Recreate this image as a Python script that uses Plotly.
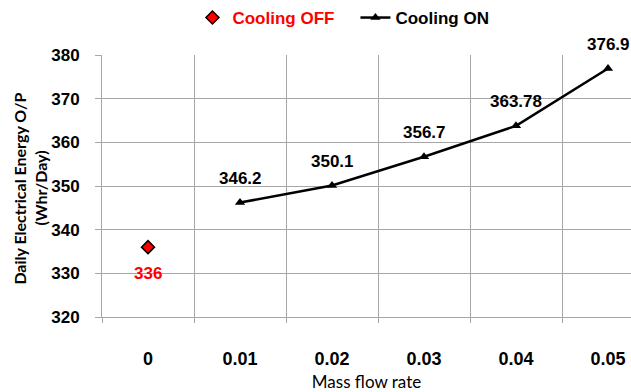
import plotly.graph_objects as go

# Mass flow rate categories and daily electrical energy output (Whr/Day)
categories = ["0", "0.01", "0.02", "0.03", "0.04", "0.05"]
off_x = ["0"]
off_y = [336]
on_x = ["0.01", "0.02", "0.03", "0.04", "0.05"]
on_y = [346.2, 350.1, 356.7, 363.78, 376.9]
on_labels = ["346.2", "350.1", "356.7", "363.78", "376.9"]
y_ticks = [320, 330, 340, 350, 360, 370, 380]
y_title_lines = ["Daily Electrical Energy O/P", "(Whr/Day)"]

BOLD = "Liberation Sans, Arial, sans-serif"
SOFT = "Lato, Open Sans, sans-serif"
GRID = "#a6a6a6"

pos = {c: i for i, c in enumerate(categories)}
boundaries = [i - 0.5 for i in range(len(categories) + 1)]

fig = go.Figure()

fig.add_trace(go.Scatter(
    x=[pos[c] for c in off_x], y=off_y,
    mode="markers",
    name="<span style='color:#ff0000'>Cooling OFF</span>",
    marker=dict(symbol="diamond", size=10, color="#ff0000",
                line=dict(color="black", width=1.5)),
    cliponaxis=False,
))

fig.add_trace(go.Scatter(
    x=[pos[c] for c in on_x], y=on_y,
    mode="lines+markers",
    name="Cooling ON",
    line=dict(color="black", width=2.5),
    marker=dict(symbol="triangle-up", size=9, color="black"),
    cliponaxis=False,
))

# value labels
for cx, cy in zip(off_x, off_y):
    fig.add_annotation(x=pos[cx], y=cy, text=str(cy), showarrow=False,
                       yshift=-26,
                       font=dict(family=BOLD, size=17, color="#ff0000", weight="bold"))
for cx, cy, lab in zip(on_x, on_y, on_labels):
    fig.add_annotation(x=pos[cx], y=cy, text=lab, showarrow=False,
                       yshift=24,
                       font=dict(family=BOLD, size=17, color="black", weight="bold"))

# y-axis title, one rotated line each
for px, line_text in zip([20, 41], y_title_lines):
    fig.add_annotation(
        text=line_text, textangle=-90,
        xref="paper", yref="paper", x=(px - 102) / 529, y=0.49,
        xanchor="center", yanchor="middle", showarrow=False,
        font=dict(family=SOFT, size=16, weight="bold", color="black"),
    )

fig.update_layout(
    width=631, height=392,
    margin=dict(l=102, r=0, t=55, b=75, autoexpand=False),
    paper_bgcolor="white", plot_bgcolor="white",
    font=dict(family=BOLD, color="black"),
    showlegend=True,
    legend=dict(
        orientation="h", x=0.305, xref="container", xanchor="left",
        y=1 - 18 / 392, yref="container", yanchor="middle",
        font=dict(family=BOLD, size=17, weight="bold", color="black"),
        itemwidth=30, tracegroupgap=0, entrywidth=118,
    ),
)

fig.update_xaxes(
    range=[-0.5, 5.25],
    tickvals=list(range(len(categories))), ticktext=categories,
    ticks="", ticklabelstandoff=25,
    showgrid=False, zeroline=False,
    minor=dict(tickvals=boundaries, ticks="outside", ticklen=5, tickcolor=GRID,
               showgrid=True, gridcolor=GRID, gridwidth=1),
    showline=True, linecolor=GRID, linewidth=1,
    tickfont=dict(family=BOLD, size=18, weight="bold", color="black"),
    title=dict(text="Mass flow rate", standoff=14,
               font=dict(family=SOFT, size=17, color="black")),
)

fig.update_yaxes(
    range=[320, 380], tickvals=y_ticks,
    ticks="outside", ticklen=6, tickcolor=GRID,
    ticklabelstandoff=12,
    showgrid=True, gridcolor=GRID, gridwidth=1,
    showline=True, linecolor=GRID, linewidth=1,
    zeroline=False,
    tickfont=dict(family=BOLD, size=17, weight="bold", color="black"),
)

fig.write_html("out.html")
